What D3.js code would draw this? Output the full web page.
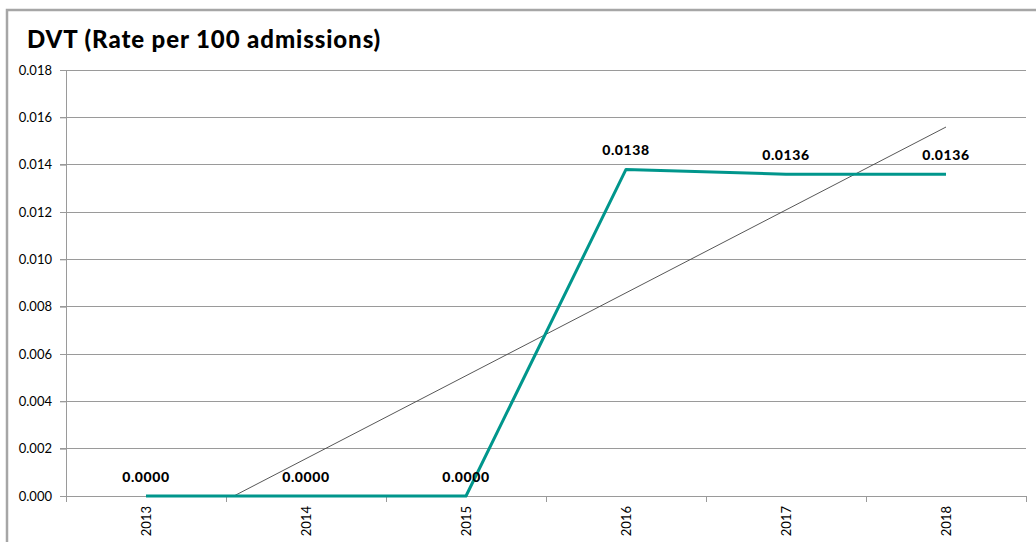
<!DOCTYPE html>
<html><head><meta charset="utf-8">
<script src="https://cdn.jsdelivr.net/npm/d3@7"></script>
<style>body{margin:0;background:#fff;}svg{display:block;}</style>
</head><body>
<script>
const categories = ["2013","2014","2015","2016","2017","2018"];
const values = [0.0000, 0.0000, 0.0000, 0.0138, 0.0136, 0.0136];
const labels = ["0.0000","0.0000","0.0000","0.0138","0.0136","0.0136"];
const yTicks = [0, 0.002, 0.004, 0.006, 0.008, 0.010, 0.012, 0.014, 0.016, 0.018];
const title = "DVT (Rate per 100 admissions)";

const W = 1036, H = 542;
const svg = d3.select("body").append("svg").attr("width", W).attr("height", H);
const font = "Lato, 'DejaVu Sans', sans-serif";

// outer frame
svg.append("rect").attr("x", 7).attr("y", 10).attr("width", W + 10).attr("height", H + 10)
  .attr("fill", "#fff").attr("stroke", "#a6a6a6").attr("stroke-width", 2.5);

const L = 66, R = 1026, T = 70, B = 496;
const x = d3.scaleBand().domain(categories).range([L, R]);
const y = d3.scaleLinear().domain([0, 0.018]).range([B, T]);

// gridlines
svg.append("g").selectAll("line").data(yTicks).join("line")
  .attr("x1", L - 6).attr("x2", R).attr("y1", d => y(d)).attr("y2", d => y(d))
  .attr("stroke", "#9a9a9a").attr("stroke-width", 1).attr("shape-rendering", "crispEdges");

// y axis
const yAxis = d3.axisLeft(y).tickValues(yTicks).tickFormat(d3.format(".3f")).tickSize(6).tickPadding(8);
const gy = svg.append("g").attr("transform", `translate(${L},0)`).call(yAxis);
gy.select(".domain").attr("stroke", "#9a9a9a").attr("shape-rendering", "crispEdges");
gy.selectAll(".tick line").attr("stroke", "#9a9a9a");
gy.selectAll("text").attr("font-family", font).attr("font-size", 13).attr("fill", "#000");

// x axis with ticks at category boundaries
const gx = svg.append("g").attr("transform", `translate(0,${B})`);
gx.append("line").attr("x1", L).attr("x2", R).attr("y1", 0).attr("y2", 0)
  .attr("stroke", "#9a9a9a").attr("shape-rendering", "crispEdges");
const bounds = categories.map(c => x(c)).concat([R]);
gx.selectAll("line.tk").data(bounds).join("line").attr("class", "tk")
  .attr("x1", d => d).attr("x2", d => d).attr("y1", 0).attr("y2", 6)
  .attr("stroke", "#9a9a9a").attr("shape-rendering", "crispEdges");
gx.selectAll("text").data(categories).join("text")
  .attr("transform", d => `translate(${x(d) + x.bandwidth() / 2 + 5},${10}) rotate(-90)`)
  .attr("text-anchor", "end").attr("font-family", font).attr("font-size", 13).attr("fill", "#000")
  .text(d => d);

const cx = d => x(d) + x.bandwidth() / 2;

// linear trendline (least squares on category index), clipped at 0
const n = values.length;
const idx = values.map((_, i) => i + 1);
const mx = d3.mean(idx), my = d3.mean(values);
const slope = d3.sum(idx.map((v, i) => (v - mx) * (values[i] - my))) / d3.sum(idx.map(v => (v - mx) ** 2));
const icpt = my - slope * mx;
const xi0 = Math.max(1, -icpt / slope), xi1 = n;
const xPos = i => cx(categories[0]) + (i - 1) * x.bandwidth();
svg.append("line")
  .attr("x1", xPos(xi0)).attr("y1", y(icpt + slope * xi0))
  .attr("x2", xPos(xi1)).attr("y2", y(icpt + slope * xi1))
  .attr("stroke", "#444").attr("stroke-width", 0.9);

// series line
svg.append("path").datum(values.map((v, i) => [cx(categories[i]), y(v)]))
  .attr("d", d3.line()).attr("fill", "none").attr("stroke", "#00968c").attr("stroke-width", 3)
  .attr("stroke-linejoin", "round");

// data labels
svg.append("g").selectAll("text").data(values).join("text")
  .attr("x", (d, i) => cx(categories[i])).attr("y", d => y(d) - 14)
  .attr("text-anchor", "middle").attr("font-family", font).attr("font-weight", "900")
  .attr("font-size", 14).attr("letter-spacing", 0.6).attr("fill", "#000").text((d, i) => labels[i]);

// title
svg.append("text").attr("x", 27).attr("y", 48).attr("font-family", font).attr("font-weight", "900")
  .attr("font-size", 24).attr("letter-spacing", 0.9).attr("fill", "#000").text(title);
</script>
</body></html>
